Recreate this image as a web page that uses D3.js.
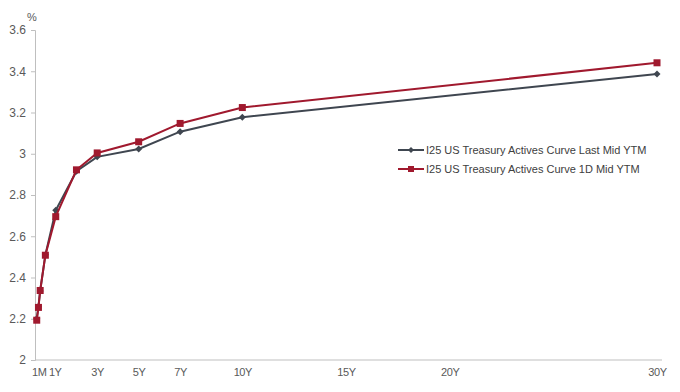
<!DOCTYPE html>
<html>
<head>
<meta charset="utf-8">
<script src="https://cdn.jsdelivr.net/npm/d3@7"></script>
<style>
  body { margin: 0; background: #fff; }
  svg { font-family: "Liberation Sans", Arial, sans-serif; }
</style>
</head>
<body>
<div id="chart"></div>
<script>
// tenors in years
const tenors = [1 / 12, 2 / 12, 3 / 12, 6 / 12, 1, 2, 3, 5, 7, 10, 30];
const lastMid = [2.20, 2.26, 2.335, 2.51, 2.726, 2.915, 2.985, 3.023, 3.107, 3.177, 3.387];
const prevMid = [2.193, 2.255, 2.337, 2.508, 2.695, 2.922, 3.004, 3.058, 3.147, 3.224, 3.441];

const xTickValues = [1 / 12, 1, 3, 5, 7, 10, 15, 20, 30];
const xTickLabels = ["1M", "1Y", "3Y", "5Y", "7Y", "10Y", "15Y", "20Y", "30Y"];
const yTicks = [2, 2.2, 2.4, 2.6, 2.8, 3, 3.2, 3.4, 3.6];

const seriesNames = [
  "I25 US Treasury Actives Curve Last Mid YTM",
  "I25 US Treasury Actives Curve 1D Mid YTM"
];

const width = 680, height = 392;
const axisColor = "#bfbfbf";
const greyColor = "#3f4650";
const redColor = "#a0192e";

const svg = d3.select("#chart")
  .append("svg")
  .attr("width", width)
  .attr("height", height);

// scales
const x = d3.scaleLinear().domain([0, 30]).range([35, 657]);
const y = d3.scaleLinear().domain([2, 3.6]).range([360, 30]);

// y axis
const yAxis = svg.append("g")
  .attr("transform", "translate(" + x(0) + ",0)")
  .call(d3.axisLeft(y).tickValues(yTicks).tickFormat(d3.format("~g")).tickSize(4).tickPadding(5));
yAxis.select(".domain").attr("stroke", axisColor);
yAxis.selectAll(".tick line").attr("stroke", axisColor);
yAxis.selectAll("text").attr("fill", "#595959").style("font-size", "12px");

// x axis, no tick marks
const xAxis = svg.append("g")
  .attr("transform", "translate(0," + y(2) + ")")
  .call(d3.axisBottom(x).tickValues(xTickValues)
    .tickFormat((d, i) => xTickLabels[i]).tickSize(0).tickSizeOuter(0).tickPadding(8));
xAxis.select(".domain").attr("stroke", axisColor).attr("d", "M" + x(0) + ",0H" + (x(30) + 5));
xAxis.selectAll("text")
  .attr("fill", "#595959")
  .style("font-size", "11px")
  .style("letter-spacing", "-0.4px");
// the two short-end labels sit packed together in the original
xAxis.selectAll(".tick text").attr("dx", (d, i) => i === 0 ? 2 : i === 1 ? -1 : 0);

// unit label
svg.append("text")
  .attr("x", 32)
  .attr("y", 21)
  .attr("text-anchor", "middle")
  .attr("fill", "#595959")
  .style("font-size", "11px")
  .text("%");

const line = d3.line()
  .x(d => x(d[0]))
  .y(d => y(d[1]));

const greyData = tenors.map((t, i) => [t, lastMid[i]]);
const redData = tenors.map((t, i) => [t, prevMid[i]]);

// last mid (grey, diamonds)
svg.append("path")
  .datum(greyData)
  .attr("fill", "none")
  .attr("stroke", greyColor)
  .attr("stroke-width", 2)
  .attr("d", line);

svg.selectAll(".diamond")
  .data(greyData)
  .enter()
  .append("path")
  .attr("class", "diamond")
  .attr("transform", d => "translate(" + x(d[0]) + "," + y(d[1]) + ")")
  .attr("d", "M0,-3.5L3.5,0L0,3.5L-3.5,0Z")
  .attr("fill", greyColor);

// 1D mid (red, squares)
svg.append("path")
  .datum(redData)
  .attr("fill", "none")
  .attr("stroke", redColor)
  .attr("stroke-width", 2)
  .attr("d", line);

svg.selectAll(".square")
  .data(redData)
  .enter()
  .append("rect")
  .attr("class", "square")
  .attr("x", d => x(d[0]) - 3.5)
  .attr("y", d => y(d[1]) - 3.5)
  .attr("width", 7)
  .attr("height", 7)
  .attr("fill", redColor);

// legend
const legend = svg.append("g").attr("transform", "translate(398,150)");
[greyColor, redColor].forEach((c, i) => {
  const g = legend.append("g").attr("transform", "translate(0," + (i * 19) + ")");
  g.append("line")
    .attr("x1", 0).attr("x2", 26)
    .attr("stroke", c).attr("stroke-width", 2);
  if (i === 0) {
    g.append("path")
      .attr("transform", "translate(13,0)")
      .attr("d", "M0,-3L3,0L0,3L-3,0Z")
      .attr("fill", c);
  } else {
    g.append("rect")
      .attr("x", 10).attr("y", -3)
      .attr("width", 6).attr("height", 6)
      .attr("fill", c);
  }
  g.append("text")
    .attr("x", 28)
    .attr("y", 4)
    .attr("fill", "#404040")
    .style("font-size", "11px")
    .text(seriesNames[i]);
});
</script>
</body>
</html>
